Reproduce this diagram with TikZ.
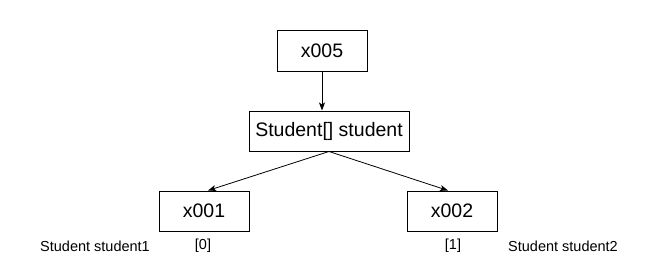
\documentclass[tikz,border=0pt]{standalone}
\usepackage{fontspec}
\setmainfont{Liberation Sans}
\usetikzlibrary{arrows.meta}

\tikzset{
  refbox/.style={draw, line width=1pt, minimum width=90pt, minimum height=40pt, inner sep=0pt, font=\fontsize{19.5}{22}\selectfont},
  varlabel/.style={font=\fontsize{14.5}{17}\selectfont, inner sep=0pt},
  ptr/.style={line width=0.8pt, -{Stealth[length=8pt,width=6pt,inset=2pt]}}
}

\begin{document}
\begin{tikzpicture}[x=1pt,y=-1pt]
  \useasboundingbox (0,0) rectangle (660,270);

  % Array reference and the array object
  \node[refbox] (top) at (322,51) {x005};
  \node[refbox, minimum width=160pt] (arr) at (329,131) {Student[] student};

  % Elements
  \node[refbox] (e0) at (204,211) {x001};
  \node[refbox] (e1) at (452,211) {x002};

  % Index and variable labels
  \node[varlabel] (i0) at (203,246) {[0]};
  \node[varlabel] (i1) at (453,246) {[1]};
  \node[varlabel] (s1) at (95,246) {Student student1};
  \node[varlabel] (s2) at (563,246) {Student student2};

  % Arrows
  \draw[ptr] (top.south) -- (top.south |- arr.north);
  \draw[ptr] (arr.south) -- ([xshift=4pt]e0.north);
  \draw[ptr] (arr.south) -- ([xshift=-4pt]e1.north);
\end{tikzpicture}
\end{document}
